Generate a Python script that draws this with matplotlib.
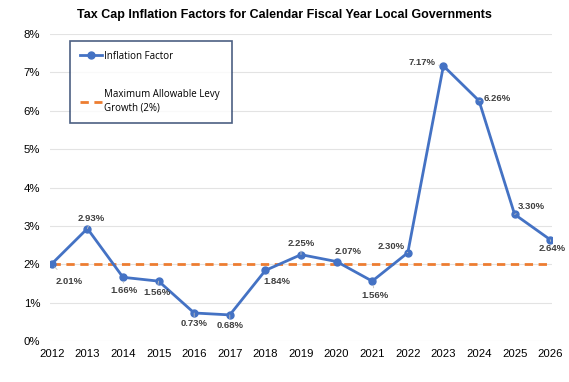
import matplotlib.pyplot as plt

years = list(range(2012, 2027))
factors = [2.01, 2.93, 1.66, 1.56, 0.73, 0.68, 1.84, 2.25, 2.07, 1.56,
           2.30, 7.17, 6.26, 3.30, 2.64]
levy_cap = 2.0
tick_labels = [f"{i}%" for i in range(0, 9)]

# label offsets in pixels (dx, dy) relative to each point
offsets = [(17, -18), (4, 10), (1, -13), (-2, -11), (0, -11), (0, -11),
           (11, -11), (0, 11), (12, 10), (3, -14), (-17, 6), (-21, 3),
           (18, 2), (17, 8), (2, -9)]

plt.rcParams['font.family'] = ['Liberation Sans', 'DejaVu Sans']

fig = plt.figure(figsize=(5.69, 3.82), dpi=100)
ax = fig.add_axes([50 / 569, 1 - 341 / 382, 502 / 569, 307 / 382])

ax.plot(years, [levy_cap] * len(years), color='#ED7D31', lw=2,
        dashes=(3, 2), label='Maximum Allowable Levy\nGrowth (2%)', zorder=2)
ax.plot(years, factors, color='#4472C4', lw=2, marker='o', markersize=5,
        label='Inflation Factor', zorder=3)

for x, y, (dx, dy) in zip(years, factors, offsets):
    ax.annotate(f"{y:.2f}%", (x, y), xytext=(dx, dy), textcoords='offset pixels',
                ha='center', va='center', fontsize=6.8, fontweight='bold',
                color='#404040',
                arrowprops=dict(arrowstyle='-', color='#BFBFBF', lw=0.6,
                                shrinkA=5, shrinkB=3))

ax.set_xlim(2011.95, 2026.05)
ax.set_ylim(0, 8)
ax.set_xticks(years)
ax.set_yticks(range(0, 9))
ax.set_yticklabels(tick_labels)
ax.tick_params(axis='both', length=0, labelsize=8.2, colors='#000000')
ax.tick_params(axis='x', pad=6)
ax.tick_params(axis='y', pad=7)
ax.grid(True, axis='y', color='#E3E3E3', lw=0.8)
ax.set_axisbelow(True)
for s in ax.spines.values():
    s.set_visible(False)

fig.suptitle('Tax Cap Inflation Factors for Calendar Fiscal Year Local Governments',
             fontsize=9, fontweight='bold', x=284 / 569, y=1 - 15 / 382,
             va='center')

handles, labels = ax.get_legend_handles_labels()
leg = ax.legend(handles[::-1], labels[::-1], loc='upper left',
                bbox_to_anchor=(70 / 569, 1 - 45 / 382, 162 / 569, 0.01),
                bbox_transform=fig.transFigure, mode='expand',
                frameon=True, fancybox=False, edgecolor='#1F3864',
                prop={'family': 'Open Sans', 'size': 7}, labelspacing=2.8,
                handlelength=2.3, handletextpad=0.15, borderpad=1.0,
                borderaxespad=0)
leg.get_frame().set_linewidth(1.2)
leg.get_texts()[1].set_linespacing(1.3)

fig.savefig('out.png', dpi=100)
